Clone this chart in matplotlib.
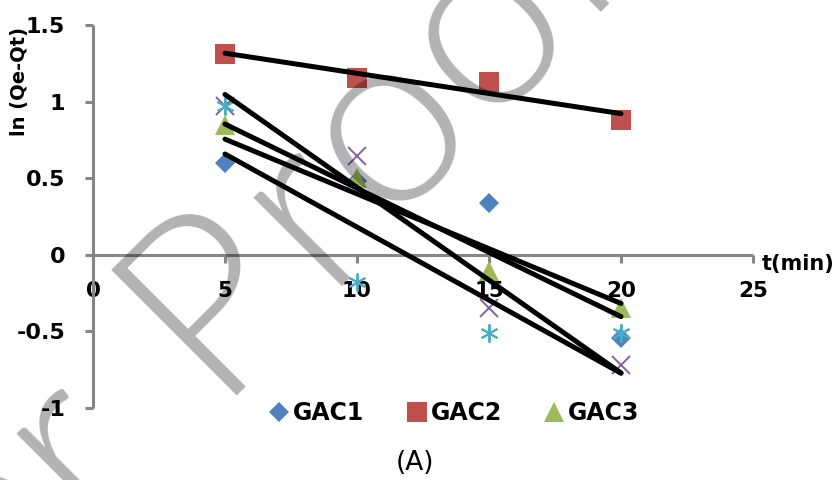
import numpy as np
import matplotlib
matplotlib.use('Agg')
import matplotlib.pyplot as plt
from matplotlib import font_manager as fm

# ln(Qe-Qt) versus time for the five carbons
t_min = [5, 10, 15, 20]
gac1 = [0.60, 0.48, 0.34, -0.545]
gac2 = [1.31, 1.155, 1.13, 0.88]
gac3 = [0.85, 0.50, -0.105, -0.345]
gac4 = [0.97, 0.645, -0.345, -0.72]
gac5 = [0.97, -0.18, -0.51, -0.51]
names = ['GAC1', 'GAC2', 'GAC3', 'GAC4', 'GAC5']

x_ticks = [0, 5, 10, 15, 20, 25]
y_ticks = [-1, -0.5, 0, 0.5, 1, 1.5]
y_tick_labels = ['-1', '-0.5', '0', '0.5', '1', '1.5']

series = [gac1, gac2, gac3, gac4, gac5]
styles = [
    dict(marker='D', color='#4F81BD', ms=10.5, mew=0),
    dict(marker='s', color='#C0504D', ms=14, mew=0),
    dict(marker='^', color='#9BBB59', ms=14.5, mew=0),
    dict(marker='x', color='#8064A2', ms=12.5, mew=1.4),
    dict(marker=(6, 2, 0), color='#4BACC6', ms=13, mew=1.4),
]
axis_grey = '#868686'

fig = plt.figure(figsize=(8.34, 4.8), dpi=100)
ax = fig.add_axes([93 / 834, 72 / 480, 660 / 834, 383 / 480])

handles = []
for y, st, name in zip(series, styles, names):
    h, = ax.plot(t_min, y, ls='none', label=name, zorder=3, **st)
    handles.append(h)

# linear trendlines over the measured range
for y in series:
    k, b = np.polyfit(t_min, y, 1)
    xs = np.array([t_min[0], t_min[-1]])
    ax.plot(xs, k * xs + b, color='black', lw=3.6,
            solid_capstyle='round', zorder=4)

ax.set_xlim(0, 25)
ax.set_ylim(-1, 1.5)
ax.spines['top'].set_visible(False)
ax.spines['right'].set_visible(False)
ax.spines['bottom'].set_position(('data', 0))
for s in ['left', 'bottom']:
    ax.spines[s].set_color(axis_grey)
    ax.spines[s].set_linewidth(2.2)
    ax.spines[s].set_capstyle('butt')

ax.set_xticks(x_ticks)
ax.set_xticklabels([str(v) for v in x_ticks], fontsize=15.5, fontweight='bold')
ax.set_yticks(y_ticks)
ax.set_yticklabels(y_tick_labels, fontsize=16, fontweight='bold')
ax.tick_params(axis='both', direction='out', length=6, width=2.2,
               color=axis_grey)
ax.tick_params(axis='x', pad=13)
ax.tick_params(axis='y', pad=14)
ax.patch.set_alpha(0)

fig.text(762 / 834, 1 - 264 / 480, 't(min)', fontsize=15, fontweight='bold',
         ha='left', va='center')
fig.text(20 / 834, 1 - 136 / 480, 'ln (Qe-Qt)', fontsize=14, fontweight='bold',
         rotation=90, ha='center', va='bottom')

fig.legend(handles=handles[:3], labels=names[:3], loc='center',
           bbox_to_anchor=(454 / 834, 1 - 413 / 480), ncol=3, frameon=False,
           prop=dict(size=17, weight='bold'), handlelength=0.9,
           handletextpad=0.15, columnspacing=1.75, borderpad=0)

fig.text(415 / 834, 1 - 463 / 480, '(A)', fontsize=19, ha='center', va='center')

# diagonal proof stamp, laid out letter by letter along a 45 degree baseline
em, track = 210, 22
light = []
for fam in ['Lato', 'Open Sans', 'Roboto']:
    light += [f for f in fm.fontManager.ttflist
              if f.name == fam and f.weight == 300 and f.style == 'normal']
if light:
    stamp_font = fm.FontProperties(fname=light[0].fname, size=180)
else:
    stamp_font = fm.FontProperties(family='Roboto', size=150)

stamp = 'Author Proof'
advance = {'A': .667, 'u': .556, 't': .278, 'h': .556, 'o': .556,
           'r': .333, ' ': .278, 'P': .667, 'f': .278}
pos, centres = 0.0, []
for c in stamp:
    centres.append(pos + advance[c] * em / 2)
    pos += advance[c] * em + track
p_start = centres[stamp.index('P')] - advance['P'] * em / 2
bx, by = 224, 382
ang = np.radians(45)
for c, u in zip(stamp, centres):
    if c == ' ':
        continue
    u = u - p_start - 16
    px = bx + u * np.cos(ang)
    py = by - u * np.sin(ang)
    fig.text(px / 834, 1 - py / 480, c, fontproperties=stamp_font,
             color='black', alpha=0.3, rotation=45, rotation_mode='anchor',
             ha='center', va='baseline', zorder=10)

fig.savefig('out.png', dpi=100)
